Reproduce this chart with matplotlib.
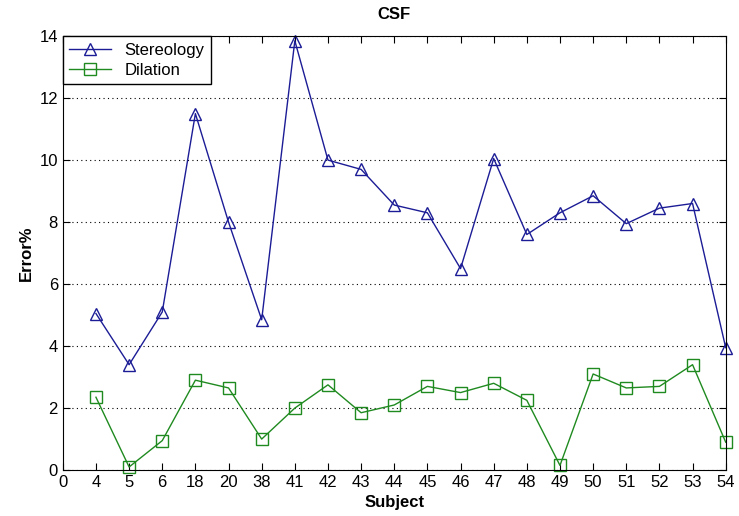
import matplotlib
matplotlib.use("Agg")
import matplotlib.pyplot as plt

plt.rcParams['font.family'] = ['Liberation Sans', 'DejaVu Sans']

# Subjects and errors
subjects = ['4', '5', '6', '18', '20', '38', '41', '42', '43', '44',
            '45', '46', '47', '48', '49', '50', '51', '52', '53', '54']
stereology = [5.05, 3.4, 5.1, 11.5, 8.0, 4.85, 13.85, 10.0, 9.7, 8.55,
              8.3, 6.5, 10.05, 7.6, 8.3, 8.85, 7.95, 8.45, 8.6, 3.95]
dilation = [2.35, 0.1, 0.95, 2.9, 2.65, 1.0, 2.0, 2.75, 1.85, 2.1,
            2.7, 2.5, 2.8, 2.25, 0.15, 3.1, 2.65, 2.7, 3.4, 0.9]

x = list(range(1, len(subjects) + 1))

fig = plt.figure(figsize=(7.39, 5.16), dpi=100)
ax = fig.add_axes([0.085, 0.089, 0.897, 0.841])

ax.plot(x, stereology, color='#1c1c96', marker='^', markersize=9,
        markerfacecolor='none', linewidth=1, label='Stereology', clip_on=False)
ax.plot(x, dilation, color='#1f8a1f', marker='s', markersize=8,
        markerfacecolor='none', linewidth=1, label='Dilation', clip_on=False)

ax.set_xlim(0, len(subjects))
ax.set_ylim(0, 14)
ax.set_xticks([0] + x)
ax.set_xticklabels(['0'] + subjects)
ax.set_yticks(range(0, 15, 2))
ax.tick_params(direction='in', top=True, right=True, labelsize=12, length=5)
ax.yaxis.grid(True, linestyle=(0, (1, 3)), color='black', linewidth=0.8)
ax.set_axisbelow(True)

ax.set_title('CSF', fontweight='bold', fontsize=12, pad=12)
ax.set_xlabel('Subject', fontweight='bold', fontsize=12, labelpad=4)
ax.set_ylabel('Error%', fontweight='bold', fontsize=12)

leg = ax.legend(loc='upper left', fancybox=False, edgecolor='black',
                framealpha=1, fontsize=12, borderaxespad=0, handlelength=2.5,
                labelspacing=0.3)
leg.get_frame().set_linewidth(1)

fig.savefig('out.png', dpi=100)
